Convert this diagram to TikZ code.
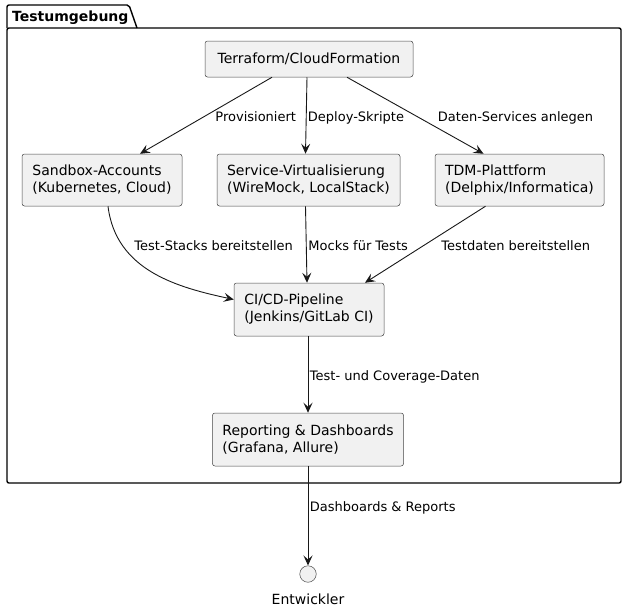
\documentclass[tikz,border=0pt]{standalone}
\usepackage{fontspec}
\setmainfont{DejaVu Sans}
\usetikzlibrary{arrows.meta, positioning}
\definecolor{boxgray}{RGB}{241,241,241}
\definecolor{linedark}{RGB}{24,24,24}
\tikzset{
>={Stealth[length=10pt, width=9pt, inset=4pt]}, % arrow heads with a notch
comp/.style={draw=linedark!80, line width=0.5pt, fill=boxgray, rounded corners=2.5pt, align=left, inner xsep=10pt, minimum height=52pt, font=\fontsize{14}{17}\selectfont}, % the component boxes
lbl/.style={inner sep=0pt, anchor=base west, font=\fontsize{13}{15}\selectfont}, % texts on the connectors
flow/.style={->, draw=linedark, line width=0.9pt}, % connectors
}
\begin{document}
\begin{tikzpicture}[x=1pt, y=-1pt]
      \useasboundingbox (0,0) rectangle (626,611);
      % package frame with its tab
      \draw[line width=1.4pt, rounded corners=2pt] (7,28) -- (7,5) -- (129,5) -- (137,28);
      \draw[line width=1.4pt, rounded corners=2pt] (7,28) rectangle (621,483);
      \node[inner sep=0pt, anchor=base west, font=\bfseries\fontsize{14}{17}\selectfont] (pkg) at (12,21.5) {Testumgebung};

      \node[comp, minimum height=36pt, minimum width=208pt] (tf) at (309,59) {Terraform/CloudFormation};
      \node[comp, minimum width=160pt] (sb) at (102,180) {Sandbox-Accounts\\(Kubernetes, Cloud)};
      \node[comp, minimum width=183pt] (sv) at (308.5,180) {Service-Virtualisierung\\(WireMock, LocalStack)};
      \node[comp, minimum width=169pt] (tdm) at (519.5,180) {TDM-Plattform\\(Delphix/Informatica)};
      \node[comp, minimum width=150pt, minimum height=53pt] (ci) at (309,309.5) {CI/CD-Pipeline\\(Jenkins/GitLab CI)};
      \node[comp, minimum width=191pt, minimum height=53pt] (rep) at (308,439.5) {Reporting \& Dashboards\\(Grafana, Allure)};
      \node[circle, draw=linedark!80, line width=0.5pt, fill=boxgray, minimum size=16.5pt, inner sep=0pt] (dev) at (308,574) {};
      \node[inner sep=0pt, below=11pt of dev, font=\fontsize{14}{17}\selectfont] (devlbl) {Entwickler};

      \draw[flow] ([xshift=-37pt]tf.south) -- ([xshift=38pt]sb.north) node[lbl] at (215,121) {Provisioniert};
      \draw[flow] ([xshift=-2pt]tf.south) -- ([xshift=-3pt]sv.north) node[lbl] at (307.5,121) {Deploy-Skripte};
      \draw[flow] ([xshift=38pt]tf.south) -- ([xshift=-36pt]tdm.north) node[lbl] at (437.5,121) {Daten-Services anlegen};
      \draw[flow] ([xshift=6pt]sb.south) .. controls +(8,65) and +(-55,-12) .. ([yshift=10pt]ci.west) node[lbl] at (134,250) {Test-Stacks bereitstellen};
      \draw[flow] ([xshift=-3pt]sv.south) -- ([xshift=-2pt]ci.north) node[lbl] at (308,250) {Mocks für Tests};
      \draw[flow] ([xshift=-34pt]tdm.south) -- ([xshift=56pt]ci.north) node[lbl] at (441,250) {Testdaten bereitstellen};
      \draw[flow] ([xshift=-1pt]ci.south) -- (rep.north) node[lbl] at (309.5,380) {Test- und Coverage-Daten};
      \draw[flow] (rep.south) -- (dev.north) node[lbl] at (309.5,511) {Dashboards \& Reports};
    \end{tikzpicture}
\end{document}
